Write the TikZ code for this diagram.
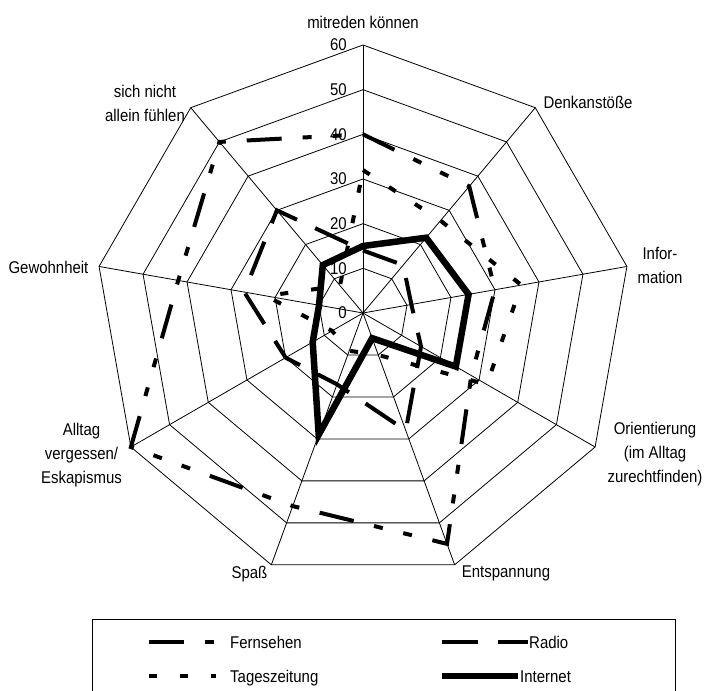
\documentclass[tikz,border=0pt]{standalone}
\usepackage{fontspec}
\setmainfont{Liberation Sans}[FakeStretch=0.88]
\usetikzlibrary{positioning}

\newcommand{\rscale}{4.4667}
\tikzset{
  web/.style={line width=0.8pt},
  fernsehen/.style={line width=4pt, dash pattern=on 35pt off 21pt on 9pt off 21pt on 9pt off 21pt},
  radio/.style={line width=4pt, dash pattern=on 36pt off 20pt},
  zeitung/.style={line width=4pt, dash pattern=on 8pt off 23pt},
  internet/.style={line width=6.5pt},
  lab/.style={font=\fontsize{17}{24}\selectfont, align=center, inner sep=0pt},
  tick/.style={font=\fontsize{17}{20}\selectfont, anchor=east, inner sep=0pt},
}

\begin{document}
\begin{tikzpicture}[x=1pt, y=1pt]
    \path[use as bounding box, fill=white] (-363,-378) rectangle (355,313);

    % net
    \foreach \r in {10,20,...,60}
        \draw[web] (90:\r*\rscale) \foreach \a in {50,10,...,-230} {-- (\a:\r*\rscale)} -- cycle;
    \foreach \a in {90,50,...,-230}
        \draw[web] (0,0) -- (\a:60*\rscale);
    \foreach \r in {0,10,...,60}
        \node[tick] (t\r) at (-16,\r*\rscale) {\r};

    % category labels
    \node[lab] (lMit) at (0,291) {mitreden können};
    \node[lab] (lDenk) at (225,211) {Denkanstöße};
    \node[lab] (lInfo) at (297,48) {Infor-\\mation};
    \node[lab] (lOrient) at (292,-141) {Orientierung\\(im Alltag\\zurechtfinden)};
    \node[lab] (lEntsp) at (143,-260) {Entspannung};
    \node[lab] (lSpass) at (-113.5,-261) {Spaß};
    \node[lab] (lAlltag) at (-281.5,-142) {Alltag\\vergessen/\\Eskapismus};
    \node[lab] (lGewohn) at (-314.5,46) {Gewohnheit};
    \node[lab] (lAllein) at (-218,210) {sich nicht\\allein fühlen};

    % series
    \draw[fernsehen] (90:40*\rscale) -- (50:37*\rscale) -- (10:30*\rscale) -- (-30:28*\rscale) -- (-70:55*\rscale)
        -- (-110:46*\rscale) -- (-150:60*\rscale) -- (170:42*\rscale) -- (130:50*\rscale) -- cycle;
    \draw[radio] (90:14*\rscale) -- (50:14*\rscale) -- (10:11*\rscale) -- (-30:15*\rscale) -- (-70:28*\rscale)
        -- (-110:17*\rscale) -- (-150:20*\rscale) -- (170:27*\rscale) -- (130:30*\rscale) -- cycle;
    \draw[zeitung] (90:32*\rscale) -- (50:27*\rscale) -- (10:36*\rscale) -- (-30:32*\rscale) -- (-70:10*\rscale)
        -- (-110:9*\rscale) -- (-150:8*\rscale) -- (170:22*\rscale) -- (130:8*\rscale) -- cycle;
    \draw[internet] (90:15*\rscale) -- (50:22*\rscale) -- (10:24*\rscale) -- (-30:24*\rscale) -- (-70:6*\rscale)
        -- (-110:29*\rscale) -- (-150:13*\rscale) -- (170:10*\rscale) -- (130:14*\rscale) -- cycle;

    % legend
    \draw[web] (-271,-378) -- (-271,-306) -- (312.5,-306) -- (312.5,-378);
    \node[lab, anchor=base west] (lgFern) at (-133,-335) {Fernsehen};
    \node[lab, anchor=base west] (lgZeit) at (-133,-369) {Tageszeitung};
    \node[lab, anchor=base west] (lgRadio) at (166,-335) {Radio};
    \node[lab, anchor=base west] (lgNet) at (157,-369) {Internet};
    \coordinate (sFern) at (-214,-329);
    \coordinate (sZeit) at (-214,-363);
    \coordinate (sRadio) at (79,-329);
    \coordinate (sNet) at (79,-363);
    \draw[fernsehen] (sFern) -- ++(67,0);
    \draw[zeitung] (sZeit) -- ++(67,0);
    \draw[radio] (sRadio) -- ++(86,0);
    \draw[internet] (sNet) -- ++(76,0);
\end{tikzpicture}
\end{document}
